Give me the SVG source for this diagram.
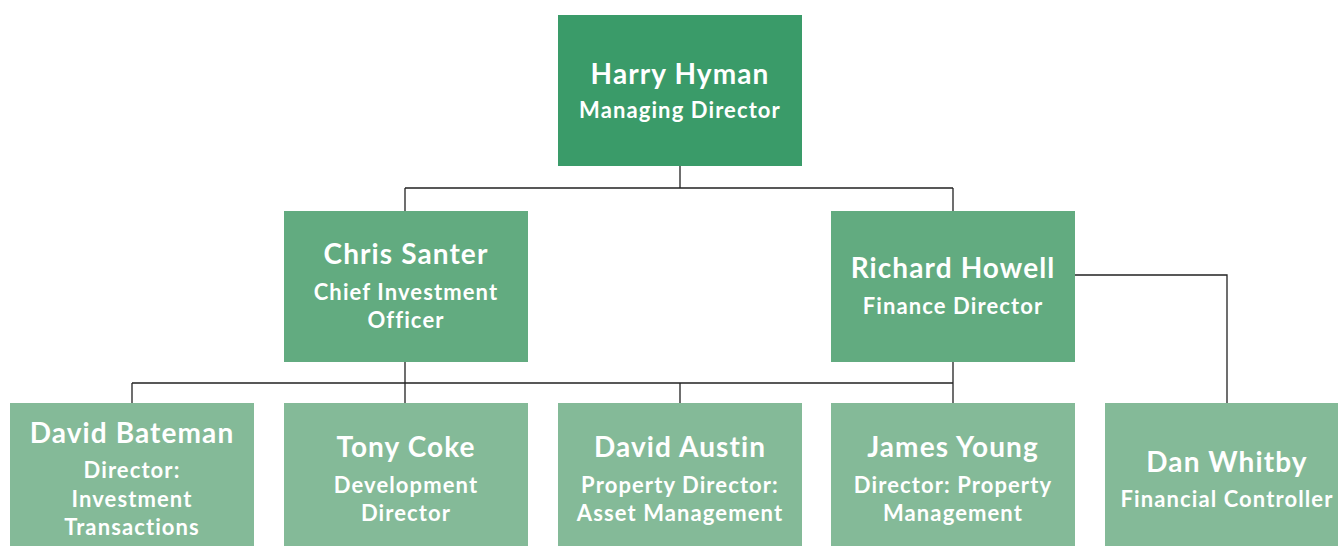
<svg xmlns="http://www.w3.org/2000/svg" width="1338" height="546" viewBox="0 0 1338 546">
  <style>
    .box1 { fill: #3a9b69; }
    .box2 { fill: #62ab80; }
    .box3 { fill: #84ba98; }
    text { font-family: Lato, "Noto Sans", sans-serif; font-weight: 700; fill: #ffffff; text-anchor: middle; }
    .name { font-size: 28px; letter-spacing: 1.1px; }
    .role { font-size: 22px; letter-spacing: 1.1px; }
    .link { fill: none; stroke: #222222; stroke-width: 1.3; }
  </style>
  <rect width="1338" height="546" fill="#ffffff"/>

  <g id="connectors">
    <path class="link" d="M680 166 V188 M405 188 H953 M405 188 V211 M953 188 V211"/>
    <path class="link" d="M405 362 V403 M132 383 H953 M132 383 V403 M680 383 V403 M953 362 V403"/>
    <path class="link" d="M1075 275 H1227 V403"/>
  </g>

  <g id="harry-hyman">
    <rect class="box1" x="558" y="15" width="244" height="151"/>
    <text class="name" x="680" y="84">Harry Hyman</text>
    <text class="role" x="680" y="118">Managing Director</text>
  </g>

  <g id="chris-santer">
    <rect class="box2" x="284" y="211" width="244" height="151"/>
    <text class="name" x="406" y="264">Chris Santer</text>
    <text class="role" x="406" y="300">Chief Investment</text>
    <text class="role" x="406" y="328">Officer</text>
  </g>

  <g id="richard-howell">
    <rect class="box2" x="831" y="211" width="244" height="151"/>
    <text class="name" x="953" y="278">Richard Howell</text>
    <text class="role" x="953" y="314">Finance Director</text>
  </g>

  <g id="david-bateman">
    <rect class="box3" x="10" y="403" width="244" height="151"/>
    <text class="name" x="132" y="443">David Bateman</text>
    <text class="role" x="132" y="478">Director:</text>
    <text class="role" x="132" y="507">Investment</text>
    <text class="role" x="132" y="535">Transactions</text>
  </g>

  <g id="tony-coke">
    <rect class="box3" x="284" y="403" width="244" height="151"/>
    <text class="name" x="406" y="457">Tony Coke</text>
    <text class="role" x="406" y="493">Development</text>
    <text class="role" x="406" y="521">Director</text>
  </g>

  <g id="david-austin">
    <rect class="box3" x="558" y="403" width="244" height="151"/>
    <text class="name" x="680" y="457">David Austin</text>
    <text class="role" x="680" y="493">Property Director:</text>
    <text class="role" x="680" y="521">Asset Management</text>
  </g>

  <g id="james-young">
    <rect class="box3" x="831" y="403" width="244" height="151"/>
    <text class="name" x="953" y="457">James Young</text>
    <text class="role" x="953" y="493">Director: Property</text>
    <text class="role" x="953" y="521">Management</text>
  </g>

  <g id="dan-whitby">
    <rect class="box3" x="1105" y="403" width="244" height="151"/>
    <text class="name" x="1227" y="472">Dan Whitby</text>
    <text class="role" x="1227" y="507">Financial Controller</text>
  </g>
</svg>
